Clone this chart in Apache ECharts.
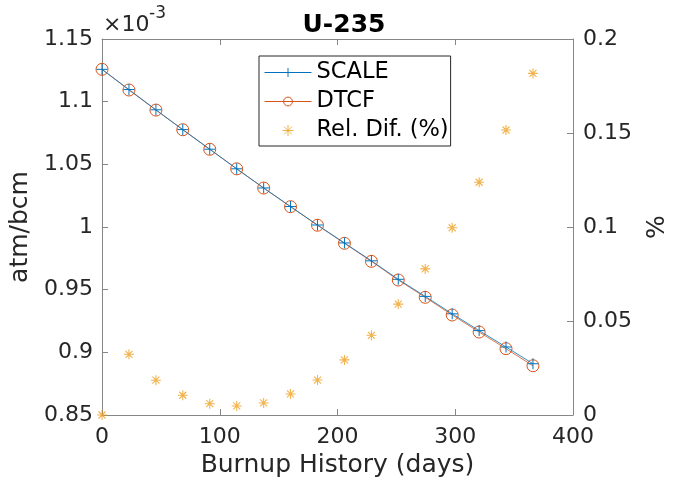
<!DOCTYPE html>
<html>
<head>
<meta charset="utf-8">
<script src="https://cdn.jsdelivr.net/npm/echarts@6/dist/echarts.min.js"></script>
<style>html,body{margin:0;padding:0;background:#fff}#c{width:678px;height:484px}</style>
</head>
<body>
<div id="c"></div>
<script>
// Burnup history (days)
var days = [0, 22.9, 45.8, 68.6, 91.5, 114.4, 137.3, 160.1, 183.0, 205.9, 228.8, 251.6, 274.5, 297.4, 320.3, 343.1, 366.0];
// U-235 number density, in units of 1e-3 atm/bcm
var dtcf = [1.1258, 1.1093, 1.0933, 1.0776, 1.0620, 1.0464, 1.0311, 1.0162, 1.0014, 0.9870, 0.9726, 0.9577, 0.9439, 0.9298, 0.9162, 0.9029, 0.8893];
// relative difference (%)
var relDif = [0.0, 0.0323, 0.0185, 0.0105, 0.0060, 0.0048, 0.0064, 0.0112, 0.0186, 0.0293, 0.0424, 0.0590, 0.0777, 0.0996, 0.1238, 0.1516, 0.1817];
// SCALE values derived from DTCF and relative difference
var scale = dtcf.map(function (v, i) { return v * (1 + relDif[i] / 100); });
var xTicks = [0, 100, 200, 300, 400];
var yLeftTicks = [0.85, 0.9, 0.95, 1, 1.05, 1.1, 1.15];
var yRightTicks = [0, 0.05, 0.1, 0.15, 0.2];

var txt = '#262626';
var axc = '#868686';
var fontF = 'DejaVu Sans';
var plusPath = 'path://M0,5L10,5M5,0L5,10';
var starPath = 'path://M0,5L10,5M5,0L5,10M1.5,1.5L8.5,8.5M1.5,8.5L8.5,1.5';

function zip(a, b) { return a.map(function (v, i) { return [v, b[i]]; }); }
function fmt(v) { return String(parseFloat(v.toFixed(3))); }

var chart = echarts.init(document.getElementById('c'), null, { renderer: 'canvas' });
chart.setOption({
  animation: false,
  backgroundColor: '#fff',
  textStyle: { fontFamily: fontF },
  title: {
    text: 'U-235', left: 339, top: 8, textAlign: 'center',
    textStyle: { fontFamily: fontF, fontSize: 25, fontWeight: 'bold', color: '#000' }
  },
  grid: { left: 102, right: 105, top: 39, bottom: 69, containLabel: false },
  legend: {
    left: 259, top: 56, orient: 'vertical',
    backgroundColor: '#fff', borderColor: '#262626', borderWidth: 1,
    padding: [5, 2, 4, 5], itemGap: 6, itemWidth: 47, itemHeight: 11,
    lineStyle: { width: 1 },
    itemStyle: { borderWidth: 1 },
    textStyle: { fontFamily: fontF, fontSize: 22.5, color: '#000' },
    data: ['SCALE', 'DTCF', 'Rel. Dif. (%)']
  },
  xAxis: [{
    type: 'value', min: 0, max: 400, interval: 100,
    name: 'Burnup History (days)', nameLocation: 'middle', nameGap: 38,
    nameTextStyle: { fontFamily: fontF, fontSize: 25, color: txt },
    axisLine: { show: true, onZero: false, lineStyle: { color: axc, width: 1 } },
    axisTick: { show: true, inside: true, length: 6, lineStyle: { color: axc } },
    axisLabel: { fontFamily: fontF, fontSize: 22, color: txt, margin: 11, formatter: fmt },
    splitLine: { show: false }
  }, {
    type: 'value', position: 'top', min: 0, max: 400, interval: 100,
    axisLine: { show: true, onZero: false, lineStyle: { color: axc, width: 1 } },
    axisTick: { show: true, inside: true, length: 6, lineStyle: { color: axc } },
    axisLabel: { show: false }, splitLine: { show: false }
  }],
  yAxis: [{
    type: 'value', min: 0.85, max: 1.15, interval: 0.05,
    name: 'atm/bcm', nameLocation: 'middle', nameGap: 66, nameRotate: 90,
    nameTextStyle: { fontFamily: fontF, fontSize: 25, color: txt },
    axisLine: { show: true, onZero: false, lineStyle: { color: axc, width: 1 } },
    axisTick: { show: true, inside: true, length: 6, lineStyle: { color: axc } },
    axisLabel: { fontFamily: fontF, fontSize: 22, color: txt, margin: 9, formatter: fmt },
    splitLine: { show: false }
  }, {
    type: 'value', position: 'right', min: 0, max: 0.2, interval: 0.05,
    name: '%', nameLocation: 'middle', nameGap: 72, nameRotate: 90,
    nameTextStyle: { fontFamily: fontF, fontSize: 25, color: txt },
    axisLine: { show: true, onZero: false, lineStyle: { color: axc, width: 1 } },
    axisTick: { show: true, inside: true, length: 6, lineStyle: { color: axc } },
    axisLabel: { fontFamily: fontF, fontSize: 22, color: txt, margin: 10, formatter: fmt },
    splitLine: { show: false }
  }],
  graphic: [{
    type: 'text', left: 103, top: 14,
    style: { text: '×10', fontFamily: fontF, fontSize: 22, fill: txt }
  }, {
    type: 'text', left: 149, top: 5,
    style: { text: '-3', fontFamily: fontF, fontSize: 17, fill: txt }
  }],
  series: [{
    name: 'SCALE', type: 'line', xAxisIndex: 0, yAxisIndex: 0,
    data: zip(days, scale), symbol: plusPath, symbolSize: 11,
    lineStyle: { color: '#0072BD', width: 0.8 },
    itemStyle: { color: 'rgba(0,0,0,0)', borderColor: '#0072BD', borderWidth: 1 },
    z: 3
  }, {
    name: 'DTCF', type: 'line', xAxisIndex: 0, yAxisIndex: 0,
    data: zip(days, dtcf), symbol: 'circle', symbolSize: 12,
    lineStyle: { color: '#D95319', width: 0.8 },
    itemStyle: { color: 'rgba(0,0,0,0)', borderColor: '#D95319', borderWidth: 1 },
    z: 2
  }, {
    name: 'Rel. Dif. (%)', type: 'scatter', xAxisIndex: 0, yAxisIndex: 1,
    data: zip(days, relDif), symbol: starPath, symbolSize: 10,
    itemStyle: { color: 'rgba(0,0,0,0)', borderColor: '#EDA020', borderWidth: 1.1 },
    z: 4
  }]
});
</script>
</body>
</html>
